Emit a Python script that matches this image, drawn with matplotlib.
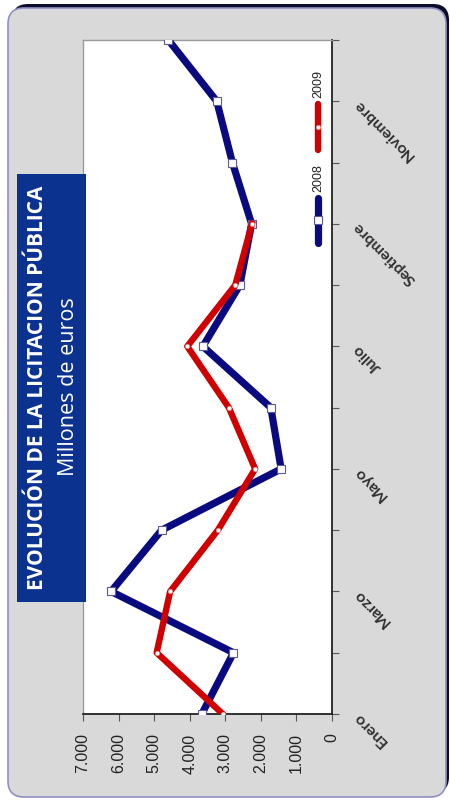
import matplotlib
matplotlib.use('Agg')
import matplotlib.pyplot as plt
from matplotlib.patches import FancyBboxPatch, Rectangle
from matplotlib.ticker import FuncFormatter

# ---------------- data ----------------
months = ['Enero', 'Febrero', 'Marzo', 'Abril', 'Mayo', 'Junio', 'Julio',
          'Agosto', 'Septiembre', 'Octubre', 'Noviembre', 'Diciembre']
v2008 = [3660, 2770, 6210, 4790, 1430, 1720, 3630, 2590, 2260, 2800, 3240, 4600]
v2009 = [3070, 4930, 4550, 3210, 2160, 2900, 4070, 2720, 2250]
value_ticks = [0, 1000, 2000, 3000, 4000, 5000, 6000, 7000]
series_names = ['2008', '2009']
title = 'EVOLUCIÓN DE LA LICITACION PÚBLICA'
subtitle = 'Millones de euros'

BLUE = '#0a0a80'
RED = '#d00000'

W, H = 450, 801
fig = plt.figure(figsize=(W / 100, H / 100), dpi=100)
fig.patch.set_facecolor('white')

# ---------- background panel (pixel coordinates) ----------
bg = fig.add_axes([0, 0, 1, 1], zorder=0)
bg.set_xlim(0, W); bg.set_ylim(H, 0); bg.axis('off')
bg.add_patch(FancyBboxPatch((12, 4), 437, 789,
                            boxstyle='round,pad=0,rounding_size=16',
                            fc='#0b0b2a', ec='none'))
bg.add_patch(FancyBboxPatch((8, 8), 438, 789,
                            boxstyle='round,pad=0,rounding_size=16',
                            fc='#d9d9d9', ec='#9090c4', lw=1.2))

# ---------- main chart (rotated layout) ----------
ax = fig.add_axes([83 / W, (H - 714) / H, (332 - 83) / W, (714 - 40) / H], zorder=1)
ax.set_facecolor('white')
ypos = list(range(len(months)))
ax.plot(v2008, ypos[:len(v2008)], color=BLUE, lw=5.2, marker='s', ms=6,
        mfc='white', mec='#5a5a9a', mew=0.8, solid_joinstyle='round', zorder=3)
ax.plot(v2009, ypos[:len(v2009)], color=RED, lw=4.6, marker='o', ms=3.2,
        mfc='white', mec='#f08080', mew=0.5, solid_joinstyle='round', zorder=4)
ax.set_xlim(7000, 0)
ax.set_ylim(0, len(months) - 1)

ax.set_xticks(value_ticks)
ax.xaxis.set_major_formatter(FuncFormatter(lambda v, p: f'{int(v):,}'.replace(',', '.')))
ax.tick_params(axis='x', direction='out', length=5, width=0.8, color='#555555',
               pad=9, labelsize=11.5, labelrotation=90, labelcolor='#222222')
for lbl in ax.get_xticklabels():
    lbl.set_fontfamily(['Liberation Sans', 'DejaVu Sans'])

ax.yaxis.tick_right()
ax.set_yticks(ypos)
ax.set_yticklabels([m if i % 2 == 0 else '' for i, m in enumerate(months)])
ax.tick_params(axis='y', direction='out', length=5, width=0.8, color='#555555',
               pad=12, labelsize=11.5, labelcolor='#303030')
for lbl in ax.get_yticklabels():
    lbl.set_rotation(135)
    lbl.set_rotation_mode('anchor')
    lbl.set_ha('right')
    lbl.set_va('center')
    lbl.set_fontfamily(['Lato', 'DejaVu Sans'])
    lbl.set_fontweight('bold')

for s in ['left', 'top']:
    ax.spines[s].set_color('#9a9a9a'); ax.spines[s].set_linewidth(1.0)
for s in ['bottom', 'right']:
    ax.spines[s].set_color('#222222'); ax.spines[s].set_linewidth(1.3)

# ---------- overlay: title box and legend ----------
ov = fig.add_axes([0, 0, 1, 1], zorder=3)
ov.set_xlim(0, W); ov.set_ylim(H, 0); ov.axis('off')
ov.patch.set_alpha(0)
ov.add_patch(Rectangle((17, 174), 69, 428, fc='#0c3290', ec='none'))
ov.text(38, 388, title, rotation=90, ha='center', va='center', color='white',
        fontsize=15, fontweight='bold', family=['Open Sans', 'DejaVu Sans'])
ov.text(69, 387, subtitle, rotation=90, ha='center', va='center', color='white',
        fontsize=15.5, family=['Open Sans', 'DejaVu Sans'])

# legend (rotated)
ov.plot([318, 318], [198, 243], color=BLUE, lw=5.2, solid_capstyle='round')
ov.plot([318], [220], marker='s', ms=6, mfc='white', mec='#5a5a9a', mew=0.8, color=BLUE)
ov.text(318, 178, series_names[0], rotation=90, ha='center', va='center',
        fontsize=9, color='#222222', family=['Liberation Sans', 'DejaVu Sans'])
ov.plot([318, 318], [104, 150], color=RED, lw=4.6, solid_capstyle='round')
ov.plot([318], [127], marker='o', ms=3.2, mfc='white', mec='#f08080', mew=0.5, color=RED)
ov.text(318, 84, series_names[1], rotation=90, ha='center', va='center',
        fontsize=9, color='#222222', family=['Liberation Sans', 'DejaVu Sans'])

fig.savefig('out.png', dpi=100)
